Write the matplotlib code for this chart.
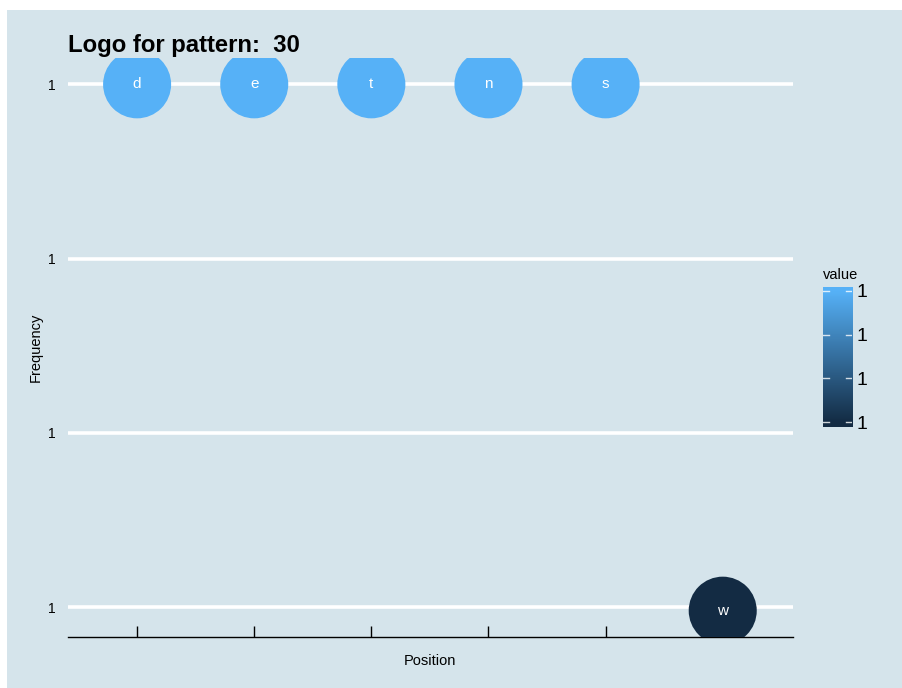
import numpy as np
import matplotlib
matplotlib.use("Agg")
import matplotlib.pyplot as plt
from matplotlib.colors import LinearSegmentedColormap, Normalize
from matplotlib.patches import Rectangle

# data
letters = ["d", "e", "t", "n", "s", "w"]
positions = [1, 2, 3, 4, 5, 6]
frequency = [1.0, 1.0, 1.0, 1.0, 1.0, 0.9999698]
ytick_vals = [0.99997, 0.99998, 0.99999, 1.0]
ytick_labels = ["1", "1", "1", "1"]
cbar_tick_labels = ["1", "1", "1", "1"]
title = "Logo for pattern:  30"

BG = "#d5e4eb"
W, H = 903, 688

plt.rcParams["font.family"] = ["Liberation Sans", "DejaVu Sans"]

fig = plt.figure(figsize=(W / 100, H / 100), dpi=100)
fig.patch.set_facecolor("white")
fig.patches.append(Rectangle((7 / W, 0), 1 - 7 / W, 1 - 10 / H,
                             transform=fig.transFigure, facecolor=BG,
                             edgecolor="none", zorder=-10))

ax = fig.add_axes([68 / W, (H - 637) / H, (793 - 68) / W, (637 - 58) / H])
ax.set_facecolor(BG)

cmap = LinearSegmentedColormap.from_list("gg", ["#132B43", "#56B1F7"])
vmin, vmax = min(frequency), max(frequency)
norm = Normalize(vmin, vmax)

for y in ytick_vals:
    ax.axhline(y, color="white", lw=2.6, zorder=1)

ax.scatter(positions, frequency, s=2400, c=frequency, cmap=cmap, norm=norm,
           edgecolors="none", zorder=3)
for x, y, lab in zip(positions, frequency, letters):
    ax.text(x, y, lab, color="white", fontsize=11, ha="center", va="center",
            zorder=4)

ax.set_xlim(0.41, 6.6)
rng = vmax - vmin
ax.set_ylim(vmin - 0.05 * rng, vmax + 0.05 * rng)

ax.set_xticks(positions)
ax.set_xticklabels([])
ax.set_yticks(ytick_vals)
ax.set_yticklabels(ytick_labels, fontsize=10)
ax.tick_params(axis="x", direction="in", length=8, width=1, color="black")
ax.tick_params(axis="y", length=0, pad=9)
for side in ["top", "right", "left"]:
    ax.spines[side].set_visible(False)
ax.spines["bottom"].set_color("black")
ax.spines["bottom"].set_linewidth(1)

fig.text(68 / W, 1 - 52 / H, title, fontsize=17.2, fontweight="bold",
         ha="left", va="baseline")
fig.text(430 / W, 1 - 661 / H, "Position", fontsize=10.5, ha="center",
         va="center")
fig.text(36 / W, 1 - 347 / H, "Frequency", fontsize=10.5, rotation=90,
         ha="center", va="center")

# colour legend
cax = fig.add_axes([823 / W, (H - 427) / H, (852 - 823) / W, (427 - 287) / H])
pad = 0.03 * rng
grad = np.linspace(vmin - pad, vmax + pad, 200).reshape(-1, 1)
cax.imshow(grad, aspect="auto", cmap=cmap, norm=norm, origin="lower",
           extent=[0, 1, vmin - pad, vmax + pad])
cax.set_xlim(0, 1)
cax.set_ylim(vmin - pad, vmax + pad)
for y in ytick_vals:
    cax.plot([0, 0.2], [y, y], color="white", lw=1, alpha=0.8)
    cax.plot([0.8, 1], [y, y], color="white", lw=1, alpha=0.8)
cax.set_xticks([])
cax.yaxis.tick_right()
cax.set_yticks(ytick_vals)
cax.set_yticklabels(cbar_tick_labels, fontsize=14)
cax.tick_params(axis="y", length=0, pad=3)
for s in cax.spines.values():
    s.set_visible(False)
fig.text(823 / W, 1 - 275 / H, "value", fontsize=10.5, ha="left",
         va="center")

fig.savefig("out.png", dpi=100, facecolor="white")
